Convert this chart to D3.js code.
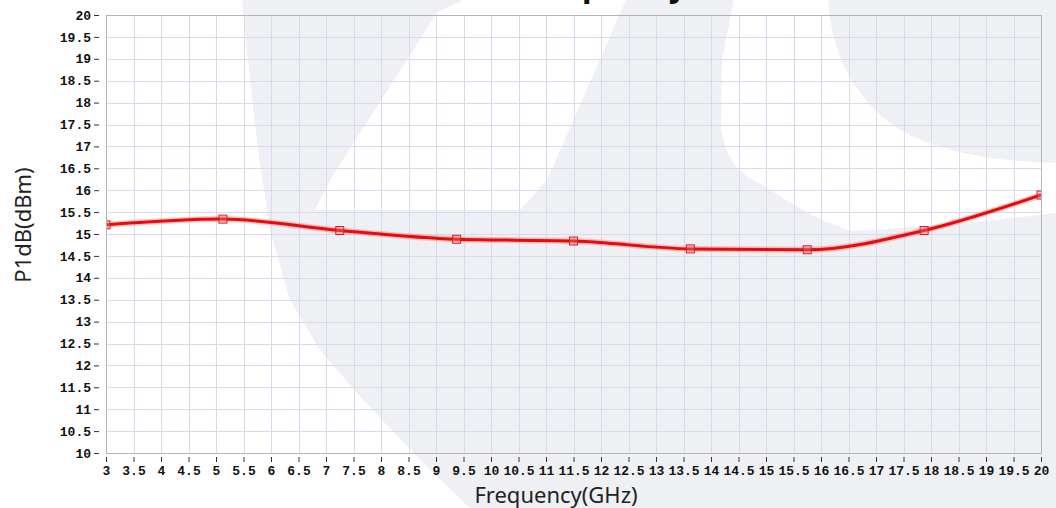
<!DOCTYPE html>
<html>
<head>
<meta charset="utf-8">
<script src="https://cdn.jsdelivr.net/npm/d3@7/dist/d3.min.js"></script>
<style>
  html, body { margin: 0; padding: 0; background: #fff; }
  svg { display: block; }
</style>
</head>
<body>
<svg id="chart" width="1056" height="508"></svg>
<script>
// ---- data ----
const frequencies = [3, 5.125, 7.25, 9.375, 11.5, 13.625, 15.75, 17.875, 20];
const p1dbValues  = [15.21, 15.34, 15.08, 14.88, 14.84, 14.66, 14.64, 15.08, 15.89];
const xTicks = d3.range(3, 20.001, 0.5);
const yTicks = d3.range(10, 20.001, 0.5);
const titleText = "P1dB vs Frequency";
const xTitle = "Frequency(GHz)";
const yTitle = "P1dB(dBm)";

const W = 1056, H = 508;
const m = { left: 106, right: 1041, top: 15, bottom: 453 };

const svg = d3.select("#chart");

// background watermark
const wm = svg.append("g").attr("fill", "#eff0f4");
wm.append("path").attr("d",
  "M242,0 L463,0 L437,13 L330,180 L315,210 L520,210 L547,180 L626,0 L734,0 " +
  "L722,60 L721,130 Q728,172 763,185 Q805,215 850,231 Q950,226 1056,213 L1056,508 " +
  "L470,508 L427,467 L363,400 L320,350 L290,300 L270,230 L258,150 L250,80 Z");
wm.append("path").attr("d",
  "M828,0 L1056,0 L1056,163 Q930,160 880,115 Q832,70 828,0 Z");

const x = d3.scaleLinear().domain([3, 20]).range([m.left, m.right]);
const y = d3.scaleLinear().domain([10, 20]).range([m.bottom, m.top]);

// grid
const grid = svg.append("g").attr("stroke", "#d8d8ee").attr("stroke-width", 1);
grid.selectAll(".gx").data(xTicks).join("line")
  .attr("x1", d => Math.round(x(d)) + 0.5).attr("x2", d => Math.round(x(d)) + 0.5)
  .attr("y1", m.top).attr("y2", m.bottom);
grid.selectAll(".gy").data(yTicks).join("line")
  .attr("y1", d => Math.round(y(d)) + 0.5).attr("y2", d => Math.round(y(d)) + 0.5)
  .attr("x1", m.left).attr("x2", m.right);

// frame
svg.append("rect")
  .attr("x", m.left + 0.5).attr("y", m.top + 0.5)
  .attr("width", m.right - m.left).attr("height", m.bottom - m.top)
  .attr("fill", "none").attr("stroke", "#b4b4b4").attr("stroke-width", 1);

// x axis
const xAxis = d3.axisBottom(x).tickValues(xTicks).tickSize(5).tickPadding(4)
  .tickFormat(d => String(d));
const gx = svg.append("g").attr("transform", `translate(0,${m.bottom + 4})`).call(xAxis);
gx.select(".domain").remove();
gx.selectAll(".tick line").attr("stroke", "#333");
gx.selectAll(".tick text")
  .attr("font-family", "'Liberation Mono', 'DejaVu Sans Mono', monospace")
  .attr("font-weight", "bold").attr("font-size", 13).attr("fill", "#111");

// y axis
const yAxis = d3.axisLeft(y).tickValues(yTicks).tickSize(5).tickPadding(3)
  .tickFormat(d => String(d));
const gy = svg.append("g").attr("transform", `translate(${m.left - 7},0)`).call(yAxis);
gy.select(".domain").remove();
gy.selectAll(".tick line").attr("stroke", "#333");
gy.selectAll(".tick text")
  .attr("font-family", "'Liberation Mono', 'DejaVu Sans Mono', monospace")
  .attr("font-weight", "bold").attr("font-size", 13).attr("fill", "#111");

// clip
svg.append("clipPath").attr("id", "plotclip").append("rect")
  .attr("x", m.left + 1).attr("y", m.top).attr("width", m.right - m.left - 1).attr("height", m.bottom - m.top);

const data = frequencies.map((f, i) => ({ f, v: p1dbValues[i] }));
const line = d3.line().x(d => x(d.f)).y(d => y(d.v)).curve(d3.curveMonotoneX);

const plot = svg.append("g").attr("clip-path", "url(#plotclip)");
plot.append("path").datum(data).attr("d", line)
  .attr("fill", "none").attr("stroke", "rgba(240,40,40,0.25)").attr("stroke-width", 6);
plot.append("path").datum(data).attr("d", line)
  .attr("fill", "none").attr("stroke", "#e60c0c").attr("stroke-width", 3);
plot.selectAll(".mk").data(data).join("rect")
  .attr("x", d => x(d.f) - 4).attr("y", d => y(d.v) - 4)
  .attr("width", 8).attr("height", 8)
  .attr("fill", "rgba(255,120,120,0.35)").attr("stroke", "#d42020").attr("stroke-width", 1);

// titles (chart title sits above the visible area, as in the reference)
svg.append("text").attr("x", 687).attr("y", -4).attr("text-anchor", "end")
  .attr("font-family", "'Noto Sans', sans-serif").attr("font-weight", "bold")
  .attr("font-size", 32).attr("fill", "#111").text(titleText);

svg.append("text").attr("x", 556).attr("y", 503).attr("text-anchor", "middle")
  .attr("font-family", "'Noto Sans', sans-serif").attr("font-size", 22)
  .attr("fill", "#222").text(xTitle);

svg.append("text").attr("transform", "translate(31,225) rotate(-90)")
  .attr("text-anchor", "middle")
  .attr("font-family", "'Noto Sans', sans-serif").attr("font-size", 22)
  .attr("fill", "#222").text(yTitle);
</script>
</body>
</html>
